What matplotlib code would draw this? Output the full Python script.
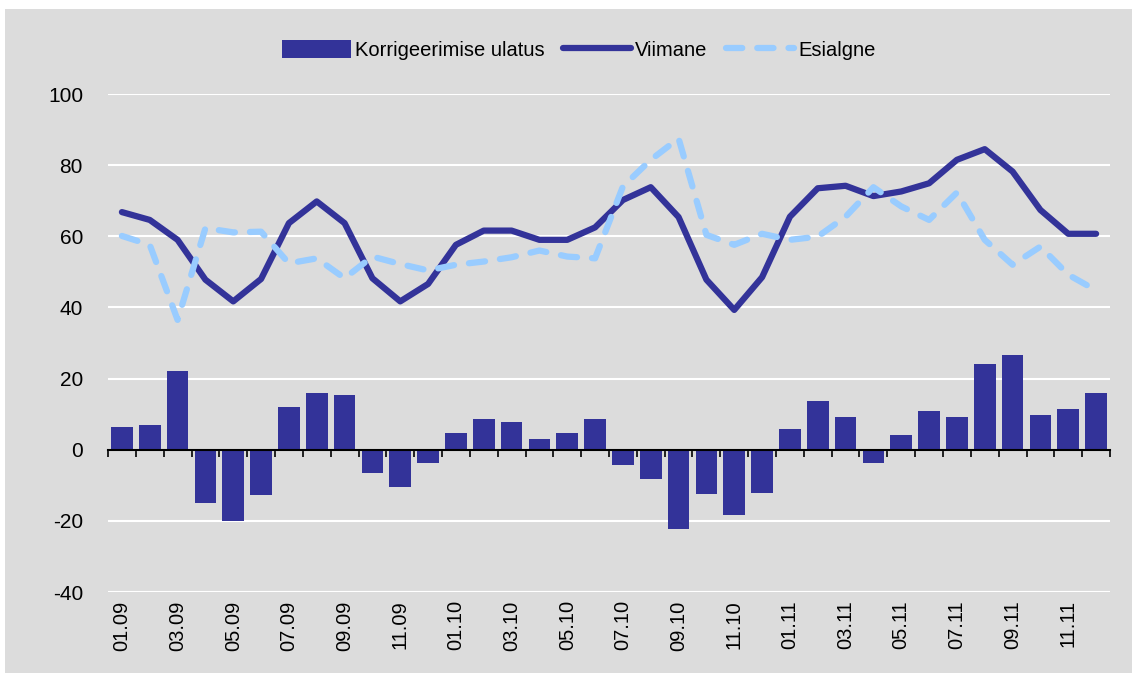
import numpy as np
import matplotlib.pyplot as plt
from matplotlib.patches import Rectangle
from matplotlib.ticker import FixedLocator, NullFormatter

plt.rcParams['font.family'] = ['Liberation Sans', 'DejaVu Sans']
plt.rcParams['axes.unicode_minus'] = False

# Kuud 01.09 ... 12.11
months = [f"{m:02d}.{y:02d}" for y in (9, 10, 11) for m in range(1, 13)]

viimane = [66.8, 64.6, 59.0, 47.8, 41.7, 48.0, 63.7, 69.8, 63.7, 48.2, 41.7, 46.6,
           57.6, 61.6, 61.6, 59.0, 59.0, 62.5, 70.2, 73.8, 65.4, 47.8, 39.3, 48.5,
           65.5, 73.5, 74.2, 71.3, 72.6, 74.9, 81.5, 84.5, 78.2, 67.4, 60.7, 60.7]

esialgne = [60.1, 57.6, 36.5, 62.3, 61.1, 61.3, 52.4, 53.8, 48.2, 54.3, 52.2, 50.4,
            52.0, 52.9, 54.1, 56.0, 54.3, 53.8, 74.0, 81.5, 87.5, 60.4, 57.6, 60.7,
            59.0, 59.9, 65.5, 73.8, 68.4, 64.6, 72.3, 59.0, 52.0, 57.1, 49.2, 44.8]

korrigeerimine = [6.3, 6.9, 22.0, -14.9, -20.0, -12.6, 11.9, 15.9, 15.4, -6.5, -10.4, -3.7,
                  4.7, 8.6, 7.9, 3.0, 4.7, 8.6, -4.3, -8.2, -22.2, -12.4, -18.3, -12.1,
                  5.7, 13.6, 9.1, -3.7, 4.1, 10.9, 9.1, 24.2, 26.5, 9.7, 11.4, 15.9]

DARK = '#333399'
LIGHT = '#99ccff'
BG = '#dcdcdc'

fig = plt.figure(figsize=(11.32, 6.73), dpi=100)
fig.patch.set_facecolor('white')
fig.patches.append(Rectangle((5 / 1132, 0), 1 - 5 / 1132, 1 - 9 / 673,
                             transform=fig.transFigure, facecolor=BG,
                             edgecolor='none', zorder=-10))

ax = fig.add_axes([108 / 1132, 1 - 592 / 673, 1002 / 1132, (592 - 94) / 673])
ax.set_facecolor(BG)

x = np.arange(len(months))
bars = ax.bar(x, korrigeerimine, width=0.78, color=DARK, label='Korrigeerimise ulatus', zorder=2)
l1, = ax.plot(x, viimane, color=DARK, lw=4.5, solid_capstyle='round', label='Viimane', zorder=3)
l2, = ax.plot(x, esialgne, color=LIGHT, lw=4.5, dashes=(2.6, 2.4), dash_capstyle='round',
              label='Esialgne', zorder=3)

ax.set_xlim(-0.5, len(months) - 0.5)
ax.set_ylim(-40, 100)
ax.set_yticks(range(-40, 101, 20))
ax.yaxis.grid(True, color='white', lw=1.5)
ax.set_axisbelow(True)
ax.tick_params(axis='y', length=0, labelsize=15, pad=18)

for s in ['top', 'right', 'left']:
    ax.spines[s].set_visible(False)
ax.spines['bottom'].set_position(('data', 0))
ax.spines['bottom'].set_color('black')
ax.spines['bottom'].set_linewidth(1.5)
ax.xaxis.set_major_locator(FixedLocator(np.arange(-0.5, len(months), 1)))
ax.xaxis.set_major_formatter(NullFormatter())
ax.tick_params(axis='x', direction='out', length=5, width=1.2, color='black')

sec = ax.secondary_xaxis('bottom')
sec.set_xticks(x[::2])
sec.set_xticklabels(months[::2], rotation=90, fontsize=14.5)
sec.tick_params(length=0, pad=6)
sec.spines['bottom'].set_visible(False)

ax.legend([bars, l1, l2], ['Korrigeerimise ulatus', 'Viimane', 'Esialgne'],
          loc='lower center', bbox_to_anchor=(0.47, 1.032), ncol=3, frameon=False,
          fontsize=14.5, handlelength=3.4, handleheight=1.0, handletextpad=0.2,
          columnspacing=0.9)

fig.savefig('out.png', dpi=100, facecolor=fig.get_facecolor())
